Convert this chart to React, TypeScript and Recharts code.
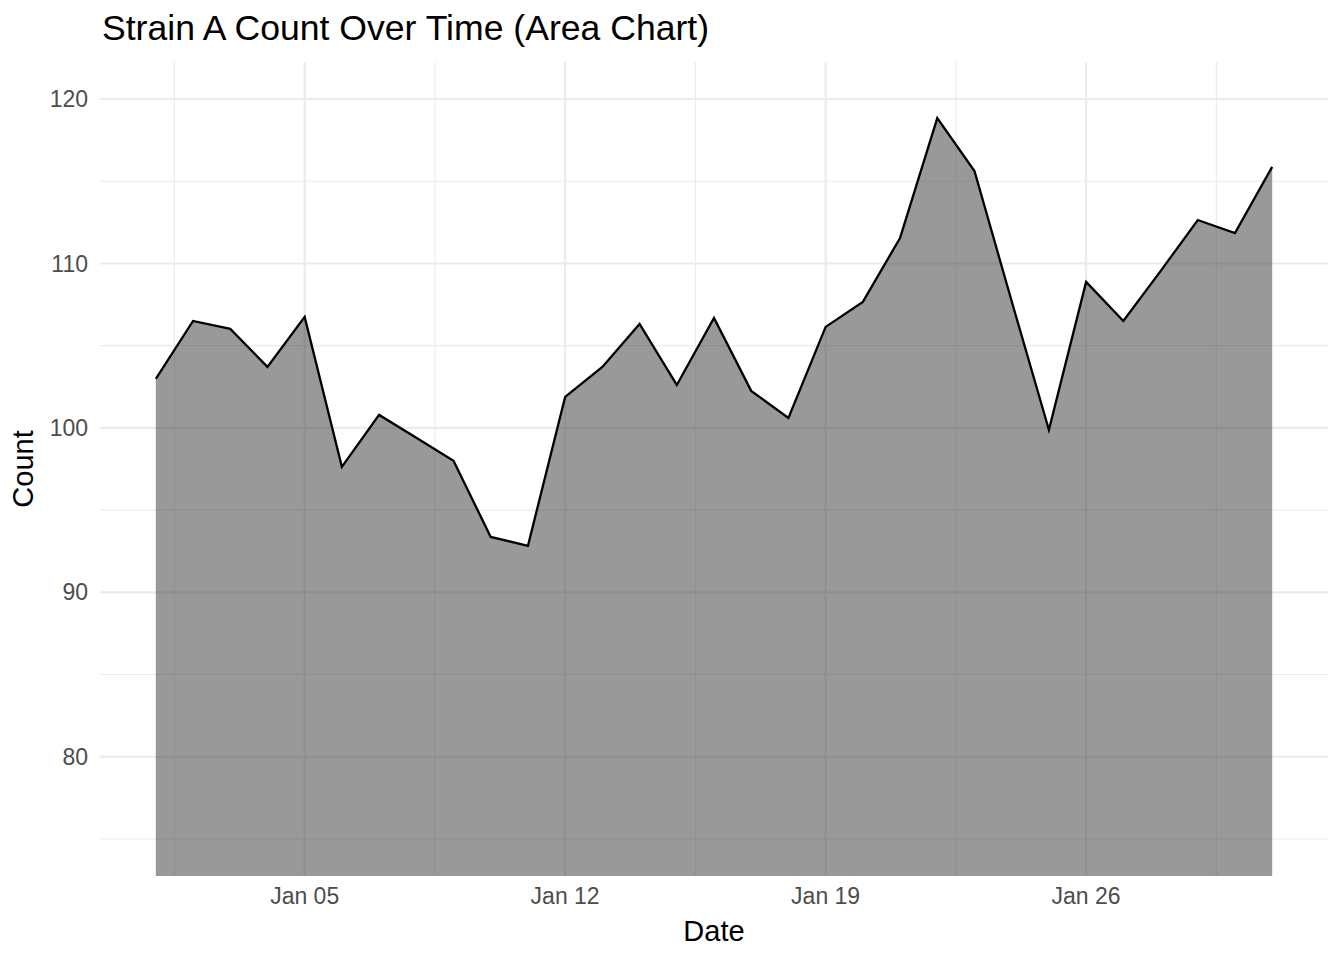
import React from 'react';
import { AreaChart, Area, XAxis, YAxis, CartesianGrid } from 'recharts';

const days = [1, 2, 3, 4, 5, 6, 7, 8, 9, 10, 11, 12, 13, 14, 15, 16, 17, 18, 19, 20, 21, 22, 23, 24, 25, 26, 27, 28, 29, 30, 31];
const counts = [102.98, 106.5, 106.02, 103.71, 106.75, 97.63, 100.79, 99.4, 98.0, 93.37, 92.83, 101.88, 103.71, 106.32, 102.61, 106.69, 102.25, 100.61, 106.14, 107.66, 111.55, 118.84, 115.62, 107.7, 99.88, 108.88, 106.5, 109.53, 112.64, 111.85, 115.87];

const xMajorTicks = [5, 12, 19, 26];
const xMinorTicks = [1.5, 8.5, 15.5, 22.5, 29.5];
const yMajorTicks = [80, 90, 100, 110, 120];
const yMinorTicks = [75, 85, 95, 105, 115];
const xDomain = [-0.5, 32.5];
const yDomain = [72.75, 122.25];

const data = days.map((d, i) => ({ day: d, count: counts[i] }));

const FONT = '"Liberation Sans", Arial, Helvetica, sans-serif';
const fmtDate = (d: number) => `Jan ${String(d).padStart(2, '0')}`;

export default function App() {
  return (
    <div style={{ position: 'absolute', left: 0, top: 0, width: 1344, height: 960, background: '#fff', fontFamily: FONT }}>
      <div style={{ position: 'absolute', left: 102, top: 10, fontSize: 35.6, lineHeight: '36px', color: '#000', whiteSpace: 'nowrap' }}>
        Strain A Count Over Time (Area Chart)
      </div>
      <AreaChart width={1344} height={960} data={data} margin={{ top: 62, right: 16, left: 0, bottom: 0 }}>
        <XAxis xAxisId="minor" dataKey="day" type="number" domain={xDomain} ticks={xMinorTicks} allowDataOverflow hide />
        <YAxis yAxisId="minor" type="number" domain={yDomain} ticks={yMinorTicks} allowDataOverflow hide />
        <CartesianGrid xAxisId="minor" yAxisId="minor" stroke="#EBEBEB" strokeWidth={1.1} syncWithTicks />
        <CartesianGrid stroke="#EBEBEB" strokeWidth={2.1} syncWithTicks />
        <XAxis
          dataKey="day"
          type="number"
          domain={xDomain}
          ticks={xMajorTicks}
          allowDataOverflow
          tickFormatter={fmtDate}
          axisLine={false}
          tickLine={false}
          tickSize={0}
          tickMargin={12}
          height={84}
          tick={{ fill: '#4D4D4D', fontSize: 23, fontFamily: FONT }}
          label={{ value: 'Date', position: 'insideBottom', offset: 19, fill: '#000', fontSize: 29, fontFamily: FONT }}
        />
        <YAxis
          type="number"
          domain={yDomain}
          ticks={yMajorTicks}
          allowDataOverflow
          axisLine={false}
          tickLine={false}
          tickSize={0}
          tickMargin={12}
          width={100}
          tick={{ fill: '#4D4D4D', fontSize: 23, fontFamily: FONT }}
          label={{
            content: (props: any) => {
              const vb = props.viewBox || { x: 0, y: 62, width: 100, height: 814 };
              const cx = vb.x + 33;
              const cy = vb.y + vb.height / 2;
              return (
                <text x={cx} y={cy} transform={`rotate(-90, ${cx}, ${cy})`} textAnchor="middle" fill="#000" fontSize={29} fontFamily={FONT}>
                  Count
                </text>
              );
            },
          }}
        />
        <Area
          type="linear"
          dataKey="count"
          stroke="#000"
          strokeWidth={2.3}
          fill="#333333"
          fillOpacity={0.5}
          isAnimationActive={false}
          dot={false}
          activeDot={false}
        />
      </AreaChart>
    </div>
  );
}
